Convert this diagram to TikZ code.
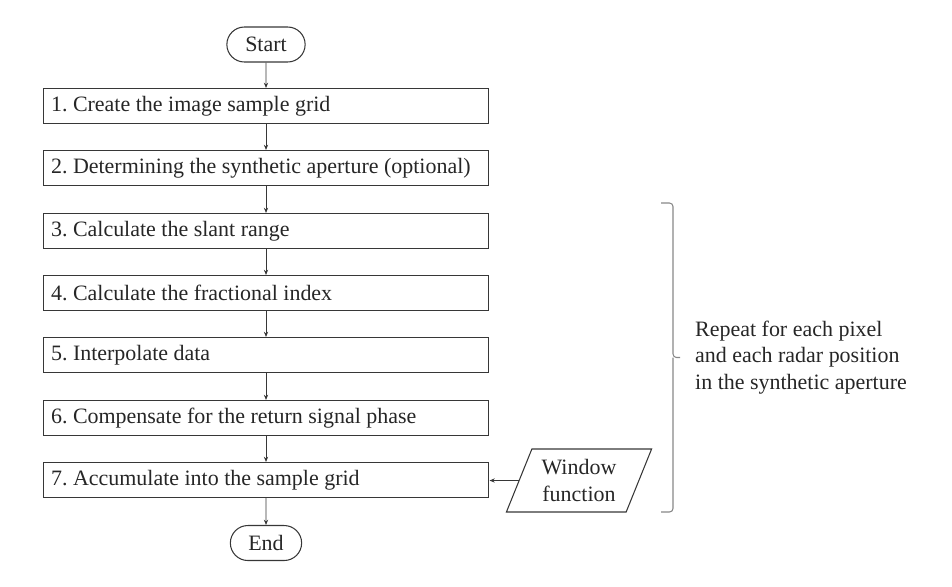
\documentclass[tikz,border=0pt]{standalone}
\usepackage{fontspec}
\setmainfont{Liberation Serif}
\usepackage{xcolor}
\usetikzlibrary{arrows.meta, shapes.geometric, shapes.misc}
\definecolor{linegray}{RGB}{55,55,55}
\definecolor{bracegray}{RGB}{135,135,135}
\frenchspacing

\begin{document}
\begin{tikzpicture}[x=0.02cm, y=-0.02cm,
    every node/.style={font=\fontsize{12.5}{15}\selectfont, text=black!85},
    stepbox/.style={draw=linegray, line width=0.6pt, minimum height=0.7cm, text width=8.6cm, inner xsep=0.16cm, align=flush left},
    terminal/.style={draw=linegray, line width=0.6pt, rounded rectangle, minimum height=0.7cm},
    arr/.style={draw=linegray, line width=0.5pt, -{Stealth[length=3pt, width=2.4pt]}}]
    \useasboundingbox (0,0) rectangle (952,586);

    % Create start and end
    \node[terminal, minimum width=1.8cm] (start) at (266,44.5) {Start};
    \node[terminal, minimum width=1.66cm] (end) at (266,543) {End};

    % Create steps
    \node[stepbox] (s1) at (266,106) {1. Create the image sample grid};
    \node[stepbox] (s2) at (266,168) {2. Determining the synthetic aperture (optional)};
    \node[stepbox] (s3) at (266,231) {3. Calculate the slant range};
    \node[stepbox] (s4) at (266,293) {4. Calculate the fractional index};
    \node[stepbox] (s5) at (266,355) {5. Interpolate data};
    \node[stepbox] (s6) at (266,418) {6. Compensate for the return signal phase};
    \node[stepbox] (s7) at (266,480) {7. Accumulate into the sample grid};

    % Window input
    \node[draw=linegray, line width=0.6pt, trapezium, trapezium left angle=65, trapezium right angle=115,
          trapezium stretches=true, minimum width=2.92cm, minimum height=1.26cm, align=center, inner sep=1pt]
          (win) at (579,480.5) {Window\\function};

    % Draw flow
    \draw[arr] (start) -- (s1);
    \draw[arr] (s1) -- (s2);
    \draw[arr] (s2) -- (s3);
    \draw[arr] (s3) -- (s4);
    \draw[arr] (s4) -- (s5);
    \draw[arr] (s5) -- (s6);
    \draw[arr] (s6) -- (s7);
    \draw[arr] (s7) -- (end);
    \draw[arr] (win.west) -- (win.west -| s7.east);

    % Loop bracket and note
    \coordinate (btop) at (661,203);
    \coordinate (bbot) at (661,512);
    \coordinate (btip) at (680,357.5);
    \draw[bracegray, line width=0.6pt, rounded corners=2pt] (btop) -| (673,357.5) -- (btip);
    \draw[bracegray, line width=0.6pt, rounded corners=2pt] (bbot) -| (673,357.5);
    \node[anchor=west, align=left] (note) at (689,357.5) {Repeat for each pixel\\and each radar position\\in the synthetic aperture};
\end{tikzpicture}
\end{document}
